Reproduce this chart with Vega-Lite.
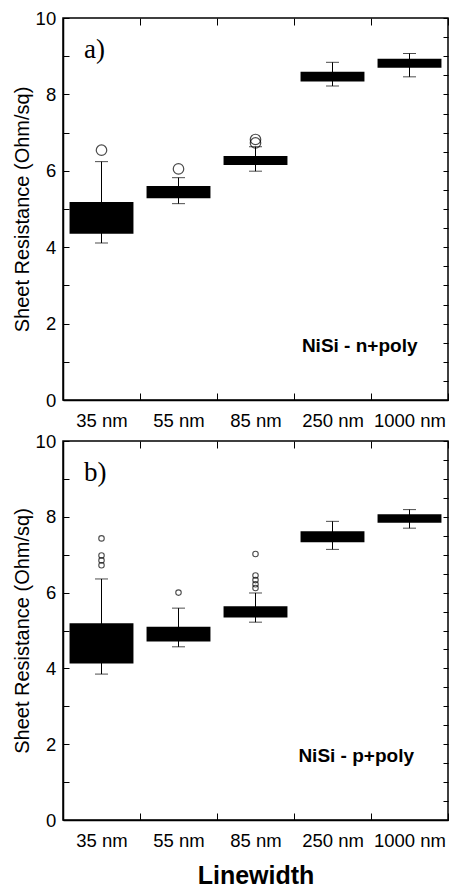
{
  "$schema": "https://vega.github.io/schema/vega-lite/v6.json",
  "background": "white",
  "padding": {"left": 11, "top": 8, "right": 4, "bottom": 0},
  "config": {
    "font": "Liberation Sans",
    "view": {"stroke": "black", "strokeWidth": 1.5},
    "axis": {
      "domainColor": "black", "domainWidth": 1.5, "tickColor": "black", "tickWidth": 1,
      "labelColor": "black", "titleColor": "black", "grid": false,
      "labelFont": "Liberation Sans", "titleFont": "Liberation Sans",
      "labelFontSize": 18.5, "titleFontSize": 20, "titleFontWeight": "normal"
    }
  },
  "datasets": {
    "boxes": [
      {"panel": "a", "linewidth": "35 nm", "wlo": 4.11, "q1": 4.35, "q3": 5.18, "whi": 6.24},
      {"panel": "a", "linewidth": "55 nm", "wlo": 5.14, "q1": 5.28, "q3": 5.60, "whi": 5.82},
      {"panel": "a", "linewidth": "85 nm", "wlo": 5.99, "q1": 6.15, "q3": 6.39, "whi": 6.63},
      {"panel": "a", "linewidth": "250 nm", "wlo": 8.22, "q1": 8.34, "q3": 8.59, "whi": 8.84},
      {"panel": "a", "linewidth": "1000 nm", "wlo": 8.46, "q1": 8.70, "q3": 8.93, "whi": 9.07},
      {"panel": "b", "linewidth": "35 nm", "wlo": 3.85, "q1": 4.13, "q3": 5.19, "whi": 6.36},
      {"panel": "b", "linewidth": "55 nm", "wlo": 4.57, "q1": 4.71, "q3": 5.10, "whi": 5.59},
      {"panel": "b", "linewidth": "85 nm", "wlo": 5.22, "q1": 5.34, "q3": 5.64, "whi": 5.99},
      {"panel": "b", "linewidth": "250 nm", "wlo": 7.14, "q1": 7.33, "q3": 7.62, "whi": 7.88},
      {"panel": "b", "linewidth": "1000 nm", "wlo": 7.70, "q1": 7.84, "q3": 8.07, "whi": 8.19}
    ],
    "outliers": [
      {"panel": "a", "linewidth": "35 nm", "value": 6.54},
      {"panel": "a", "linewidth": "55 nm", "value": 6.05},
      {"panel": "a", "linewidth": "85 nm", "value": 6.73},
      {"panel": "a", "linewidth": "85 nm", "value": 6.82},
      {"panel": "b", "linewidth": "35 nm", "value": 7.43},
      {"panel": "b", "linewidth": "35 nm", "value": 6.98},
      {"panel": "b", "linewidth": "35 nm", "value": 6.85},
      {"panel": "b", "linewidth": "35 nm", "value": 6.72},
      {"panel": "b", "linewidth": "55 nm", "value": 6.00},
      {"panel": "b", "linewidth": "85 nm", "value": 7.02},
      {"panel": "b", "linewidth": "85 nm", "value": 6.45},
      {"panel": "b", "linewidth": "85 nm", "value": 6.33},
      {"panel": "b", "linewidth": "85 nm", "value": 6.22},
      {"panel": "b", "linewidth": "85 nm", "value": 6.12}
    ],
    "notes": [
      {"panel": "a", "letter": "a)", "material": "NiSi - n+poly"},
      {"panel": "b", "letter": "b)", "material": "NiSi - p+poly"}
    ]
  },
  "spacing": 0,
  "vconcat": [
    {
      "width": 385, "height": 382,
      "resolve": {"axis": {"x": "independent", "y": "independent"}},
      "layer": [
        {
          "data": {"name": "boxes"}, "transform": [{"filter": "datum.panel == 'a'"}],
          "mark": {"type": "rule", "color": "black", "strokeWidth": 1},
          "encoding": {
            "x": {"field": "linewidth", "type": "nominal", "sort": ["35 nm", "55 nm", "85 nm", "250 nm", "1000 nm"],
                  "scale": {"type": "band", "domain": ["35 nm", "55 nm", "85 nm", "250 nm", "1000 nm"], "paddingInner": 0, "paddingOuter": 0},
                  "axis": {"orient": "bottom", "title": null, "labelAngle": 0, "tickBand": "extent", "tickSize": -7, "labelPadding": 18, "domain": true}},
            "y": {"field": "wlo", "type": "quantitative", "scale": {"domain": [0, 10], "nice": false, "zero": false},
                  "axis": {"orient": "left", "title": "Sheet Resistance (Ohm/sq)", "format": "d", "values": [0,0.5,1,1.5,2,2.5,3,3.5,4,4.5,5,5.5,6,6.5,7,7.5,8,8.5,9,9.5,10],
                           "labelExpr": "datum.value % 2 == 0 ? datum.label : ''", "tickSize": -6, "labelPadding": 13.3, "titlePadding": 3, "domain": true}},
            "y2": {"field": "whi"}
          }
        },
        {
          "data": {"name": "boxes"}, "transform": [{"filter": "datum.panel == 'a'"}],
          "mark": {"type": "tick", "color": "black", "size": 13, "thickness": 1, "orient": "horizontal"},
          "encoding": {
            "x": {"field": "linewidth", "type": "nominal", "sort": ["35 nm", "55 nm", "85 nm", "250 nm", "1000 nm"], "scale": {"type": "band"},
                  "axis": {"orient": "top", "title": null, "labels": false, "tickBand": "extent", "tickSize": -7, "domain": false}},
            "y": {"field": "whi", "type": "quantitative",
                  "axis": {"orient": "right", "title": null, "labels": false, "values": [0,0.5,1,1.5,2,2.5,3,3.5,4,4.5,5,5.5,6,6.5,7,7.5,8,8.5,9,9.5,10], "tickSize": -5, "domain": false}}
          }
        },
        {
          "data": {"name": "boxes"}, "transform": [{"filter": "datum.panel == 'a'"}],
          "mark": {"type": "tick", "color": "black", "size": 13, "thickness": 1, "orient": "horizontal"},
          "encoding": {
            "x": {"field": "linewidth", "type": "nominal", "sort": ["35 nm", "55 nm", "85 nm", "250 nm", "1000 nm"], "scale": {"type": "band"}, "axis": null},
            "y": {"field": "wlo", "type": "quantitative", "axis": null}
          }
        },
        {
          "data": {"name": "boxes"}, "transform": [{"filter": "datum.panel == 'a'"}],
          "mark": {"type": "bar", "color": "black", "width": {"band": 0.83}},
          "encoding": {
            "x": {"field": "linewidth", "type": "nominal", "sort": ["35 nm", "55 nm", "85 nm", "250 nm", "1000 nm"], "scale": {"type": "band"}, "axis": null},
            "y": {"field": "q1", "type": "quantitative", "axis": null},
            "y2": {"field": "q3"}
          }
        },
        {
          "data": {"name": "outliers"}, "transform": [{"filter": "datum.panel == 'a'"}],
          "mark": {"type": "point", "shape": "circle", "filled": false, "color": "black", "strokeWidth": 1.2, "size": 110},
          "encoding": {
            "x": {"field": "linewidth", "type": "nominal", "sort": ["35 nm", "55 nm", "85 nm", "250 nm", "1000 nm"], "scale": {"type": "band"}, "axis": null},
            "y": {"field": "value", "type": "quantitative", "axis": null}
          }
        },
        {
          "data": {"name": "notes"}, "transform": [{"filter": "datum.panel == 'a'"}],
          "mark": {"type": "text", "font": "Liberation Serif", "fontSize": 27, "align": "left", "baseline": "alphabetic", "dx": -17.5, "color": "black"},
          "encoding": {
            "x": {"datum": "35 nm", "type": "nominal", "scale": {"type": "band"}, "axis": null},
            "y": {"datum": 8.95, "type": "quantitative", "axis": null},
            "text": {"field": "letter"}
          }
        },
        {
          "data": {"name": "notes"}, "transform": [{"filter": "datum.panel == 'a'"}],
          "mark": {"type": "text", "fontSize": 19, "fontWeight": "bold", "align": "right", "baseline": "alphabetic", "dx": 8, "color": "black"},
          "encoding": {
            "x": {"datum": "1000 nm", "type": "nominal", "scale": {"type": "band"}, "axis": null},
            "y": {"datum": 1.26, "type": "quantitative", "axis": null},
            "text": {"field": "material"}
          }
        }
      ]
    },
    {
      "width": 385, "height": 379,
      "resolve": {"axis": {"x": "independent", "y": "independent"}},
      "layer": [
        {
          "data": {"name": "boxes"}, "transform": [{"filter": "datum.panel == 'b'"}],
          "mark": {"type": "rule", "color": "black", "strokeWidth": 1},
          "encoding": {
            "x": {"field": "linewidth", "type": "nominal", "sort": ["35 nm", "55 nm", "85 nm", "250 nm", "1000 nm"],
                  "scale": {"type": "band", "domain": ["35 nm", "55 nm", "85 nm", "250 nm", "1000 nm"], "paddingInner": 0, "paddingOuter": 0},
                  "axis": {"orient": "bottom", "title": "Linewidth", "titleFontSize": 25, "titleFontWeight": "bold", "titlePadding": 14, "labelAngle": 0, "tickBand": "extent", "tickSize": -7, "labelPadding": 18, "domain": true}},
            "y": {"field": "wlo", "type": "quantitative", "scale": {"domain": [0, 10], "nice": false, "zero": false},
                  "axis": {"orient": "left", "title": "Sheet Resistance (Ohm/sq)", "format": "d", "values": [0,0.5,1,1.5,2,2.5,3,3.5,4,4.5,5,5.5,6,6.5,7,7.5,8,8.5,9,9.5,10],
                           "labelExpr": "datum.value % 2 == 0 ? datum.label : ''", "tickSize": -6, "labelPadding": 13.3, "titlePadding": 3, "domain": true}},
            "y2": {"field": "whi"}
          }
        },
        {
          "data": {"name": "boxes"}, "transform": [{"filter": "datum.panel == 'b'"}],
          "mark": {"type": "tick", "color": "black", "size": 13, "thickness": 1, "orient": "horizontal"},
          "encoding": {
            "x": {"field": "linewidth", "type": "nominal", "sort": ["35 nm", "55 nm", "85 nm", "250 nm", "1000 nm"], "scale": {"type": "band"},
                  "axis": {"orient": "top", "title": null, "labels": false, "tickBand": "extent", "tickSize": -7, "domain": false}},
            "y": {"field": "whi", "type": "quantitative",
                  "axis": {"orient": "right", "title": null, "labels": false, "values": [0,0.5,1,1.5,2,2.5,3,3.5,4,4.5,5,5.5,6,6.5,7,7.5,8,8.5,9,9.5,10], "tickSize": -5, "domain": false}}
          }
        },
        {
          "data": {"name": "boxes"}, "transform": [{"filter": "datum.panel == 'b'"}],
          "mark": {"type": "tick", "color": "black", "size": 13, "thickness": 1, "orient": "horizontal"},
          "encoding": {
            "x": {"field": "linewidth", "type": "nominal", "sort": ["35 nm", "55 nm", "85 nm", "250 nm", "1000 nm"], "scale": {"type": "band"}, "axis": null},
            "y": {"field": "wlo", "type": "quantitative", "axis": null}
          }
        },
        {
          "data": {"name": "boxes"}, "transform": [{"filter": "datum.panel == 'b'"}],
          "mark": {"type": "bar", "color": "black", "width": {"band": 0.83}},
          "encoding": {
            "x": {"field": "linewidth", "type": "nominal", "sort": ["35 nm", "55 nm", "85 nm", "250 nm", "1000 nm"], "scale": {"type": "band"}, "axis": null},
            "y": {"field": "q1", "type": "quantitative", "axis": null},
            "y2": {"field": "q3"}
          }
        },
        {
          "data": {"name": "outliers"}, "transform": [{"filter": "datum.panel == 'b'"}],
          "mark": {"type": "point", "shape": "circle", "filled": false, "color": "black", "strokeWidth": 1.1, "size": 30},
          "encoding": {
            "x": {"field": "linewidth", "type": "nominal", "sort": ["35 nm", "55 nm", "85 nm", "250 nm", "1000 nm"], "scale": {"type": "band"}, "axis": null},
            "y": {"field": "value", "type": "quantitative", "axis": null}
          }
        },
        {
          "data": {"name": "notes"}, "transform": [{"filter": "datum.panel == 'b'"}],
          "mark": {"type": "text", "font": "Liberation Serif", "fontSize": 27, "align": "left", "baseline": "alphabetic", "dx": -17.5, "color": "black"},
          "encoding": {
            "x": {"datum": "35 nm", "type": "nominal", "scale": {"type": "band"}, "axis": null},
            "y": {"datum": 8.95, "type": "quantitative", "axis": null},
            "text": {"field": "letter"}
          }
        },
        {
          "data": {"name": "notes"}, "transform": [{"filter": "datum.panel == 'b'"}],
          "mark": {"type": "text", "fontSize": 19, "fontWeight": "bold", "align": "right", "baseline": "alphabetic", "dx": 4.5, "color": "black"},
          "encoding": {
            "x": {"datum": "1000 nm", "type": "nominal", "scale": {"type": "band"}, "axis": null},
            "y": {"datum": 1.54, "type": "quantitative", "axis": null},
            "text": {"field": "material"}
          }
        }
      ]
    }
  ]
}
